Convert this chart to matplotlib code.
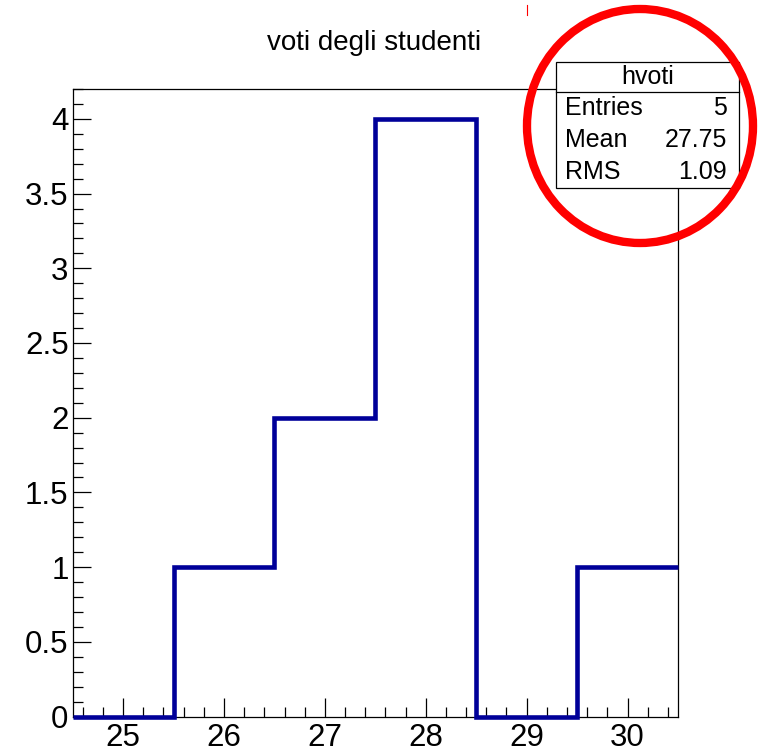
import matplotlib
matplotlib.use('Agg')
import matplotlib.pyplot as plt
from matplotlib.patches import Rectangle, Ellipse
from matplotlib.lines import Line2D
from matplotlib.ticker import MultipleLocator, FuncFormatter
import numpy as np

plt.rcParams['font.family'] = ['Liberation Sans', 'DejaVu Sans']

# histogram data
bin_edges = [24.5, 25.5, 26.5, 27.5, 28.5, 29.5, 30.5]
counts = [0, 1, 2, 4, 0, 1]
title = 'voti degli studenti'
hist_name = 'hvoti'
stat_names = ['Entries', 'Mean', 'RMS']
stat_values = ['5', '27.75', '1.09']

W, H = 759, 755
fig = plt.figure(figsize=(W / 100, H / 100), dpi=100)
ax = fig.add_axes([72.7 / W, 1 - 716.5 / H, (678 - 72.7) / W, (716.5 - 89) / H])

ax.stairs(counts, bin_edges, baseline=None, color='#000099', lw=3.3, clip_on=False, zorder=3)
ax.set_xlim(bin_edges[0], bin_edges[-1])
ax.set_ylim(0, max(counts) * 1.05)

ax.xaxis.set_major_locator(MultipleLocator(1))
ax.xaxis.set_minor_locator(MultipleLocator(0.2))
ax.yaxis.set_major_locator(MultipleLocator(0.5))
ax.yaxis.set_minor_locator(MultipleLocator(0.1))
ax.yaxis.set_major_formatter(FuncFormatter(lambda v, p: '%g' % v))
ax.xaxis.set_major_formatter(FuncFormatter(lambda v, p: '%g' % v))

ax.tick_params(axis='x', which='major', direction='in', length=14, width=0.9, labelsize=22.5, pad=5)
ax.tick_params(axis='x', which='minor', direction='in', length=7.5, width=0.9)
ax.tick_params(axis='y', which='major', direction='in', length=13, width=0.9, labelsize=22.5, pad=3)
ax.tick_params(axis='y', which='minor', direction='in', length=7, width=0.9)
for s in ax.spines.values():
    s.set_linewidth(0.9)

fig.text(374.5 / W, 1 - 43 / H, title, ha='center', va='center', fontsize=20)

# stats box
bx0, bx1, by0, by1, byh = 556, 739, 62, 188, 92
fig.patches.append(Rectangle((bx0 / W, 1 - by1 / H), (bx1 - bx0) / W, (by1 - by0) / H,
                             transform=fig.transFigure, facecolor='white', edgecolor='black',
                             lw=0.9, zorder=5))
fig.lines.append(Line2D([bx0 / W, bx1 / W], [1 - byh / H, 1 - byh / H],
                        transform=fig.transFigure, color='black', lw=0.9, zorder=6))
fig.text((bx0 + bx1) / 2 / W, 1 - 77 / H, hist_name, ha='center', va='center', fontsize=18, zorder=7)
row_y = [108, 140, 172]
for name, val, yy in zip(stat_names, stat_values, row_y):
    fig.text(565 / W, 1 - yy / H, name, ha='left', va='center', fontsize=18, zorder=7)
    fig.text(727 / W, 1 - yy / H, val, ha='right', va='center', fontsize=18, zorder=7)

# red highlight circle
fig.patches.append(Ellipse((640 / W, 1 - 126 / H), 226 / W, 234 / H, transform=fig.transFigure,
                           fill=False, edgecolor='#ff0000', lw=6, zorder=8))
fig.lines.append(Line2D([527 / W, 527 / W], [1 - 5 / H, 1 - 15 / H], transform=fig.transFigure,
                        color='#ff0000', lw=0.8, zorder=8))

fig.savefig('out.png', dpi=100)
